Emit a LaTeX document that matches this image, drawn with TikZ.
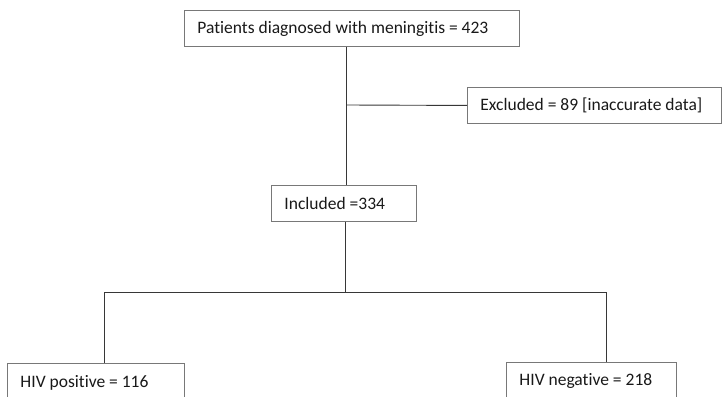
\documentclass[tikz,border=0pt]{standalone}
\usepackage{fontspec}
\setmainfont{Carlito}[Ligatures=NoCommon]
\definecolor{boxline}{RGB}{120,120,120}
\definecolor{conn}{RGB}{55,55,55}
\newcommand{\boxtext}[2]{\makebox[#1][l]{#2}}
\begin{document}
\begin{tikzpicture}[x=1pt,y=-1pt,
  flowbox/.style={draw=boxline, line width=0.9pt, fill=white, anchor=north west,
    rectangle, inner xsep=13pt, inner ysep=0pt, minimum height=36pt,
    font=\fontsize{17.5}{20}\selectfont, text=black!90},
  connector/.style={draw=conn, line width=0.9pt}]
\useasboundingbox (0,0) rectangle (722,396);
\clip (0,0) rectangle (722,396);
\fill[white] (0,0) rectangle (722,396);
\node[flowbox] (top) at (184,10) {\boxtext{309pt}{Patients diagnosed with meningitis = 423}};
\node[flowbox] (exc) at (467,87) {\boxtext{228pt}{Excluded = 89 [inaccurate data]}};
\node[flowbox] (inc) at (271,185) {\boxtext{119pt}{Included =334}};
\node[flowbox, minimum height=38pt] (pos) at (7,363) {\boxtext{151pt}{HIV positive = 116}};
\node[flowbox, minimum height=38pt] (neg) at (506,362) {\boxtext{144pt}{HIV negative = 218}};
\coordinate (j1) at (346,105);
\coordinate (j2) at (345,292);
\coordinate (lpos) at (104,292);
\coordinate (lneg) at (606,292);
\draw[connector] (top.south -| j1) -- (inc.north -| j1);
\draw[connector] (j1) -- (exc.west);
\draw[connector] (inc.south -| j2) -- (j2);
\draw[connector] (lpos) -- (lneg);
\draw[connector] (lpos) -- (pos.north -| lpos);
\draw[connector] (lneg) -- (neg.north -| lneg);
\end{tikzpicture}
\end{document}
